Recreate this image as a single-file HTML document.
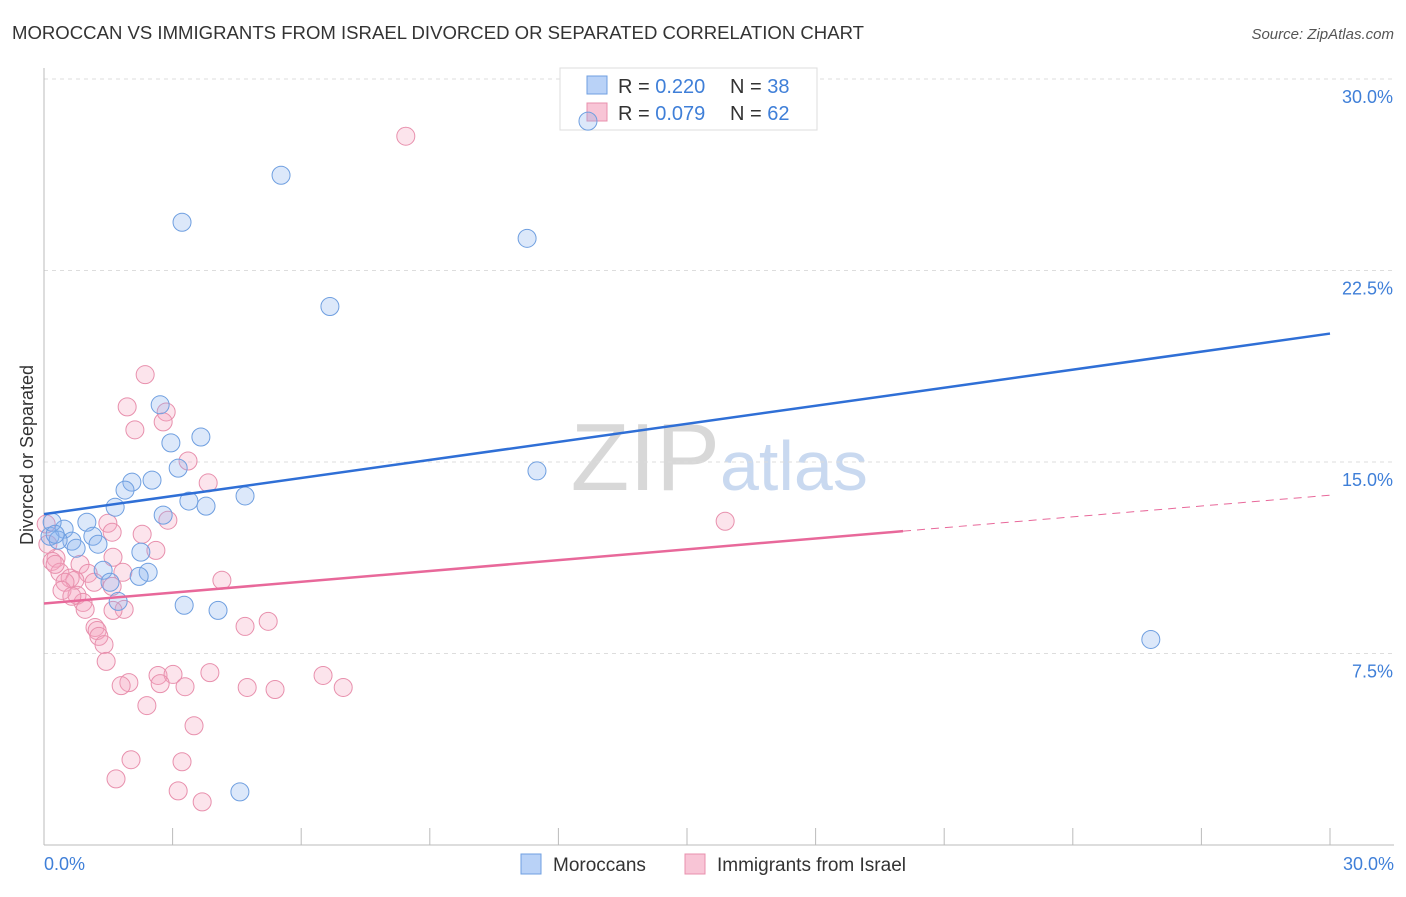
<!DOCTYPE html>
<html><head><meta charset="utf-8"><style>
body{margin:0;background:#fff;font-family:"Liberation Sans",sans-serif;}
svg text{font-family:"Liberation Sans",sans-serif;}
</style></head><body>
<svg id="chart" width="1406" height="892" xmlns="http://www.w3.org/2000/svg">
<text x="12" y="39" font-size="18" fill="#333" textLength="852" lengthAdjust="spacingAndGlyphs">MOROCCAN VS IMMIGRANTS FROM ISRAEL DIVORCED OR SEPARATED CORRELATION CHART</text>
<text x="1394" y="39" font-size="15" fill="#555" text-anchor="end" font-style="italic">Source: ZipAtlas.com</text>
<text x="720" y="490" font-size="96" fill="#d8d8d8" text-anchor="end" font-family="Liberation Serif">ZIP</text>
<text x="720" y="490" font-size="70" fill="#c9d9f0">atlas</text>
<g id="grid"></g>
<line x1="44" y1="68" x2="44" y2="845" stroke="#bbb"/>
<line x1="44" y1="845" x2="1394" y2="845" stroke="#bbb"/>
<text x="0" y="0" transform="translate(33,455) rotate(-90)" font-size="18" fill="#333" text-anchor="middle">Divorced or Separated</text>
<g>
<rect x="560" y="68" width="257" height="62" fill="#fff" stroke="#ddd"/>
<rect x="587" y="76" width="20" height="18" fill="#b9d2f7" stroke="#6f9fe0"/>
<text x="618" y="93" font-size="20" fill="#333">R = <tspan fill="#3f7fd8">0.220</tspan></text>
<text x="730" y="93" font-size="20" fill="#333">N = <tspan fill="#3f7fd8">38</tspan></text>
<rect x="587" y="103" width="20" height="18" fill="#f8c5d6" stroke="#e890ad"/>
<text x="618" y="120" font-size="20" fill="#333">R = <tspan fill="#3f7fd8">0.079</tspan></text>
<text x="730" y="120" font-size="20" fill="#333">N = <tspan fill="#3f7fd8">62</tspan></text>
</g>
<g id="marks"></g>
<g id="lines"></g>
<g>
<rect x="521" y="854" width="20" height="20" fill="#b9d2f7" stroke="#6f9fe0"/>
<text x="553" y="871" font-size="19" fill="#333">Moroccans</text>
<rect x="685" y="854" width="20" height="20" fill="#f8c5d6" stroke="#e890ad"/>
<text x="717" y="871" font-size="19" fill="#333">Immigrants from Israel</text>
</g>
</svg>
<script>
const yTicks=[7.5,15,22.5,30];
const yTickLabels=["7.5%","15.0%","22.5%","30.0%"];
const xTicks=[0,3,6,9,12,15,18,21,24,27,30];
const xEndLabels=["0.0%","30.0%"];
const blueX=[12.69,5.53,3.22,11.27,6.67,2.71,3.66,2.96,3.13,2.52,2.05,1.89,4.69,3.38,3.78,1.66,2.78,1.00,0.47,1.14,0.14,0.65,1.26,0.33,0.75,2.26,1.38,2.43,2.22,1.54,1.73,3.27,4.06,11.50,25.82,4.57,0.19,0.26];
const blueY=[28.35,26.23,24.39,23.76,21.09,17.24,15.98,15.75,14.76,14.29,14.21,13.90,13.67,13.47,13.27,13.23,12.92,12.64,12.37,12.09,12.09,11.90,11.78,11.94,11.62,11.47,10.76,10.68,10.52,10.29,9.54,9.39,9.19,14.65,8.05,2.08,12.64,12.17];
const pinkX=[8.44,2.36,1.94,2.85,2.78,2.12,3.36,3.83,2.89,1.49,1.59,2.29,2.61,0.28,1.61,0.19,0.84,0.37,1.03,0.61,0.72,0.49,1.17,1.59,1.84,0.42,0.77,0.91,0.65,1.87,1.61,4.15,1.19,1.24,1.28,1.40,4.69,5.23,1.45,2.66,3.01,3.87,1.98,1.80,2.71,3.29,4.74,5.39,6.51,6.98,2.40,3.50,2.03,3.22,1.68,3.13,3.69,15.89,0.05,0.09,0.26,0.96];
const pinkY=[27.76,18.42,17.16,16.96,16.57,16.26,15.04,14.18,12.72,12.60,12.25,12.17,11.54,11.23,11.27,11.11,10.99,10.68,10.64,10.45,10.37,10.29,10.29,10.13,10.68,9.97,9.78,9.50,9.74,9.23,9.19,10.37,8.52,8.40,8.17,7.85,8.56,8.76,7.19,6.64,6.68,6.75,6.36,6.24,6.32,6.20,6.17,6.09,6.64,6.17,5.46,4.67,3.34,3.26,2.59,2.12,1.69,12.68,12.57,11.78,10.99,9.23];
const blueTrend=[12.96,20.03];
const pinkTrend=[9.46,13.70];
const pinkSolidEnd=20.04;
const X0=44,X1=1330,Y0=845,YTOP=79;
const sx=v=>X0+(v/30)*(X1-X0);
const sy=v=>Y0-(v/30)*(Y0-YTOP);
const NS="http://www.w3.org/2000/svg";
function mk(tag,attrs,parent){const e=document.createElementNS(NS,tag);for(const k in attrs)e.setAttribute(k,attrs[k]);parent.appendChild(e);return e;}
const grid=document.getElementById('grid');
yTicks.forEach((t,i)=>{
 const l=mk('line',{x1:44,x2:1394,y1:sy(t),y2:sy(t),stroke:'#ddd','stroke-dasharray':'4,4'},grid);
 
 
 const tx=mk('text',{x:1393,y:sy(t)+24,'font-size':18,fill:'#3f7fd8','text-anchor':'end'},grid);
 tx.textContent=yTickLabels[i];
 
 
});
xTicks.forEach(t=>{
 const l=mk('line',{x1:sx(t),x2:sx(t),y1:845,y2:828,stroke:'#bbb'},grid);
 
 
});
const xl0=mk('text',{x:44,y:870,'font-size':18,fill:'#3f7fd8'},grid);xl0.textContent=xEndLabels[0];


const xl1=mk('text',{x:1394,y:870,'font-size':18,fill:'#3f7fd8','text-anchor':'end'},grid);xl1.textContent=xEndLabels[1];


const marks=document.getElementById('marks');
pinkX.forEach((v,i)=>{
 const c=mk('circle',{cx:sx(v),cy:sy(pinkY[i]),r:9,fill:'rgba(244,165,192,0.3)',stroke:'#e890ad','stroke-width':1},marks);
 
 
});
blueX.forEach((v,i)=>{
 const c=mk('circle',{cx:sx(v),cy:sy(blueY[i]),r:9,fill:'rgba(140,180,240,0.3)',stroke:'#6f9fe0','stroke-width':1},marks);
 
 
});
const lines=document.getElementById('lines');
const bl=mk('line',{x1:sx(0),y1:sy(blueTrend[0]),x2:sx(30),y2:sy(blueTrend[1]),stroke:'#2f6fd6','stroke-width':2.5},lines);


const pm=pinkTrend[0]+(pinkTrend[1]-pinkTrend[0])*pinkSolidEnd/30;
const pl=mk('line',{x1:sx(0),y1:sy(pinkTrend[0]),x2:sx(pinkSolidEnd),y2:sy(pm),stroke:'#e8689a','stroke-width':2.5},lines);


const pd=mk('line',{x1:sx(pinkSolidEnd),y1:sy(pm),x2:sx(30),y2:sy(pinkTrend[1]),stroke:'#e8689a','stroke-width':1,'stroke-dasharray':'8,6'},lines);


</script>
</body></html>
